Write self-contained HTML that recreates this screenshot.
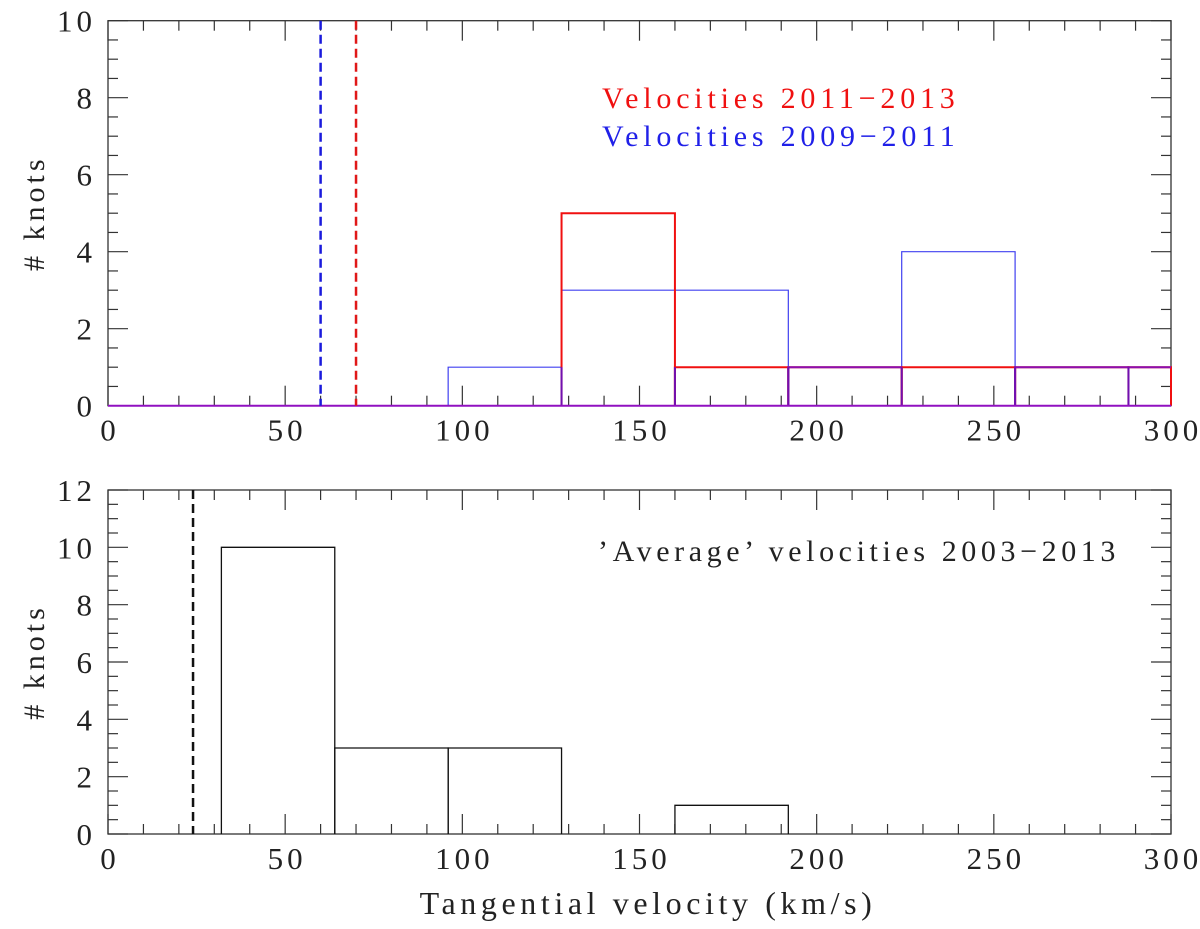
<!DOCTYPE html>
<html><head><meta charset="utf-8"><style>
body{margin:0;background:#fff}
svg text{font-family:"Liberation Serif",serif;fill:#222}
</style></head><body>
<svg id="chart" width="1200" height="924" xmlns="http://www.w3.org/2000/svg"></svg>
<script>
const binEdges=[96,128,160,192,224,256,288,320];
const redCounts=[0,5,1,1,1,1,1];
const blueCounts=[1,3,3,1,4,1,1];
const avgEdges=[32,64,96,128,160,192];
const avgCounts=[10,3,3,0,1];
const xTicks=[0,50,100,150,200,250,300];
const topYTicks=[0,2,4,6,8,10];
const botYTicks=[0,2,4,6,8,10,12];
const topDashes=[{v:60,c:"#1a1adc"},{v:70,c:"#e01818"}];
const botDashes=[24];

const svg=document.getElementById('chart');
const NS="http://www.w3.org/2000/svg";
function el(t,a,p){const e=document.createElementNS(NS,t);for(const k in a)e.setAttribute(k,a[k]);(p||svg).appendChild(e);return e;}
const X0=108,X1=1171;
const sx=v=>X0+(Math.min(v,300))*(X1-X0)/300;
function panel(name,top,bot,ymax,yTicks){
  const sy=v=>bot-v*(bot-top)/ymax;
  const g=el('g',{});
  
  
  el('rect',{x:X0,y:top,width:X1-X0,height:bot-top,fill:'none',stroke:'#333','stroke-width':1.3},g);
  for(let v=0;v<=300;v+=10){const maj=v%50===0,L=maj?20:10;
    el('line',{x1:sx(v),x2:sx(v),y1:bot,y2:bot-L,stroke:'#333','stroke-width':1.2},g);
    el('line',{x1:sx(v),x2:sx(v),y1:top,y2:top+L,stroke:'#333','stroke-width':1.2},g);}
  for(let v=0;v<=ymax+1e-9;v+=0.5){const maj=v%2===0,L=maj?20:10;
    el('line',{x1:X0,x2:X0+L,y1:sy(v),y2:sy(v),stroke:'#333','stroke-width':1.2},g);
    el('line',{x1:X1,x2:X1-L,y1:sy(v),y2:sy(v),stroke:'#333','stroke-width':1.2},g);}
  xTicks.forEach(v=>{const t=el('text',{x:sx(v)+2,y:bot+35,'text-anchor':'middle','font-size':31,'letter-spacing':4},g);t.textContent=v;
    
    });
  yTicks.forEach(v=>{const t=el('text',{x:X0-12,y:sy(v)+11,'text-anchor':'end','font-size':31,'letter-spacing':4},g);t.textContent=v;
    
    });
  const yl=el('text',{x:0,y:0,transform:`translate(44,${(top+bot)/2}) rotate(-90)`,'text-anchor':'middle','font-size':30,'letter-spacing':4},g);
  yl.textContent='# knots';
  
  
  return {g,sy};
}
const P1=panel('top-panel',20.7,405.7,10,topYTicks);
const P2=panel('bottom-panel',490,834,12,botYTicks);
function hist(p,edges,counts,color,w,name){
  for(let i=0;i<counts.length;i++){if(!counts[i])continue;
    const r=el('path',{d:`M${sx(edges[i])},${p.sy(0)}V${p.sy(counts[i])}H${sx(edges[i+1])}V${p.sy(0)}`,fill:'none',stroke:color,'stroke-width':w},p.g);
    
    }
}
hist(P1,binEdges,blueCounts,'#4040f0',1.2,'blue-bar');
hist(P1,binEdges,redCounts,'#f01010',2,'red-bar');
for(let i=0;i<redCounts.length;i++){if(redCounts[i]&&redCounts[i]===blueCounts[i]){
  const r=el('path',{d:`M${sx(binEdges[i])},${P1.sy(0)}V${P1.sy(redCounts[i])}H${sx(binEdges[i+1])}`,fill:'none',stroke:'#8a10b0','stroke-width':2},P1.g);
  
  }}
for(let i=1;i<binEdges.length-1;i++){if(redCounts[i-1]||redCounts[i]){const r=el('line',{x1:sx(binEdges[i]),x2:sx(binEdges[i]),y1:P1.sy(0),y2:P1.sy(Math.min(Math.max(redCounts[i-1],blueCounts[i-1]),Math.max(redCounts[i],blueCounts[i]),1)),stroke:'#7010b0','stroke-width':2},P1.g);
  
  }}
const base=el('line',{x1:X0,x2:X1,y1:P1.sy(0),y2:P1.sy(0),stroke:'#9010c0','stroke-width':2},P1.g);


topDashes.forEach(d=>{const l=el('line',{x1:sx(d.v),x2:sx(d.v),y1:20.7,y2:405.7,stroke:d.c,'stroke-width':2.5,'stroke-dasharray':'9,5'},P1.g);
  
  });
hist(P2,avgEdges,avgCounts,'#111',1.3,'avg-bar');
botDashes.forEach(v=>{const l=el('line',{x1:sx(v),x2:sx(v),y1:490,y2:834,stroke:'#111','stroke-width':2.5,'stroke-dasharray':'9,5'},P2.g);
  
  });
function label(txt,x,y,c,name,ls){const t=el('text',{x:x,y:y,'font-size':30,fill:c,'letter-spacing':ls});t.style.fill=c;t.textContent=txt;
  
  }
label('Velocities 2011\u22122013',602,108,'#f01010','legend-red',4.8);
label('Velocities 2009\u22122011',602,146,'#2020e8','legend-blue',4.8);
label('\u2019Average\u2019 velocities 2003\u22122013',598,561,'#222','legend-average',4.6);
const xt=el('text',{x:648,y:914,'text-anchor':'middle','font-size':32,'letter-spacing':4.6});xt.textContent='Tangential velocity (km/s)';


</script>
</body></html>
